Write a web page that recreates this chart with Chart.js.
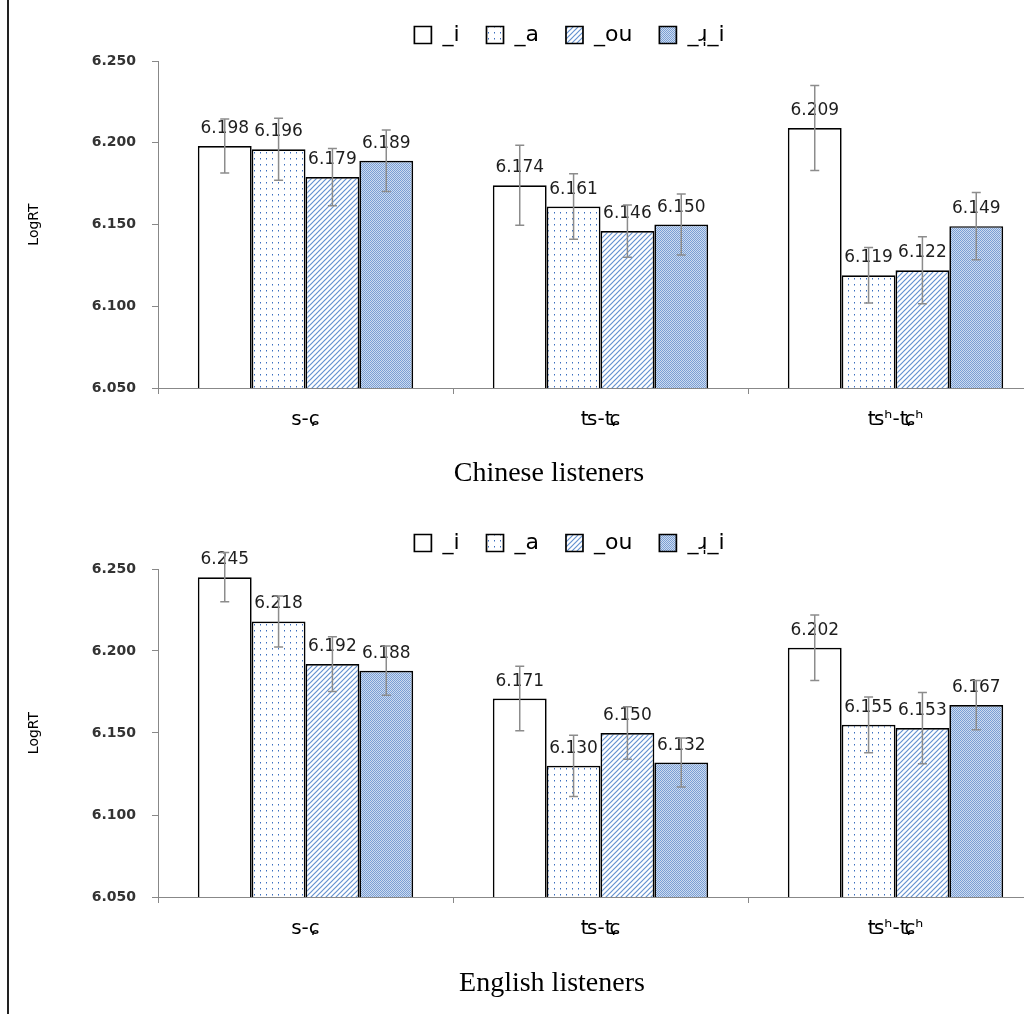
<!DOCTYPE html>
<html>
<head>
<meta charset="utf-8">
<script src="https://cdn.jsdelivr.net/npm/chart.js@4"></script>
<style>
  html, body { margin:0; padding:0; background:#fff; }
  body { width:1024px; height:1014px; overflow:hidden; position:relative; }
  canvas { position:absolute; left:0; }
  #c1 { top:0; }
  #c2 { top:508px; }
  .frame { position:absolute; left:7px; top:0; width:2px; height:1014px; background:#222; }
  .caption { position:absolute; left:0; text-align:center; font-family:"Liberation Serif","Times New Roman",serif; font-size:28px; line-height:32px; color:#000; }
</style>
</head>
<body>
<div class="frame"></div>
<canvas id="c1" width="1045" height="508"></canvas>
<canvas id="c2" width="1045" height="508"></canvas>
<div class="caption" style="top:456px; width:1098px">Chinese listeners</div>
<div class="caption" style="top:966px; width:1104px">English listeners</div>
<script>
// ----- data -----
const categories = ['s-ɕ', 'ʦ-ʨ', 'ʦʰ-ʨʰ'];
const seriesNames = ['_i', '_a', '_ou', '_ɹ̩_i'];
const yTicks = [6.050, 6.100, 6.150, 6.200, 6.250];

// Chinese listeners: mean LogRT per series (s-ɕ, ʦ-ʨ, ʦʰ-ʨʰ)
const cn_i  = [6.198, 6.174, 6.209];
const cn_a  = [6.196, 6.161, 6.119];
const cn_ou = [6.179, 6.146, 6.122];
const cn_ri = [6.189, 6.150, 6.149];
// error bar half-lengths
const cnErr_i  = [0.0165, 0.0245, 0.026];
const cnErr_a  = [0.019, 0.020, 0.017];
const cnErr_ou = [0.0175, 0.016, 0.0205];
const cnErr_ri = [0.0188, 0.0187, 0.0205];

// English listeners
const en_i  = [6.245, 6.171, 6.202];
const en_a  = [6.218, 6.130, 6.155];
const en_ou = [6.192, 6.150, 6.153];
const en_ri = [6.188, 6.132, 6.167];
const enErr_i  = [0.015, 0.0197, 0.020];
const enErr_a  = [0.0155, 0.0187, 0.017];
const enErr_ou = [0.0167, 0.016, 0.0217];
const enErr_ri = [0.015, 0.015, 0.015];

// ----- fill patterns -----
function makePattern(w, h, draw) {
  const c = document.createElement('canvas');
  c.width = w; c.height = h;
  const g = c.getContext('2d');
  draw(g);
  return g.createPattern(c, 'repeat');
}
const dots = makePattern(6, 6, g => {
  g.fillStyle = '#fff'; g.fillRect(0, 0, 6, 6);
  g.fillStyle = '#3b6dbd'; g.fillRect(2, 2, 1, 1);
  g.fillStyle = '#9db8e2'; g.fillRect(2, 3, 1, 1);
});
const stripes = makePattern(5, 5, g => {
  g.fillStyle = '#fff'; g.fillRect(0, 0, 5, 5);
  g.strokeStyle = '#6592d0'; g.lineWidth = 1.2;
  g.beginPath();
  g.moveTo(0, 5); g.lineTo(5, 0);
  g.moveTo(-1, 1); g.lineTo(1, -1);
  g.moveTo(4, 6); g.lineTo(6, 4);
  g.stroke();
});
const checker = makePattern(2, 2, g => {
  g.fillStyle = '#cddbf0'; g.fillRect(0, 0, 2, 2);
  g.fillStyle = '#7a9fd4'; g.fillRect(0, 0, 1, 1); g.fillRect(1, 1, 1, 1);
});
const fills = ['#fff', dots, stripes, checker];

// ----- plugins -----
// shift the legend a bit (it is centred over the uncropped figure)
const nudgeLegend = {
  id: 'nudgeLegend',
  afterLayout(chart, args, opts) {
    const lg = chart.legend;
    lg.left += opts.dx; lg.right += opts.dx;
    lg.top += opts.dy; lg.bottom += opts.dy;
  }
};

// value labels and error bars
const barExtras = {
  id: 'barExtras',
  afterDatasetsDraw(chart) {
    const ctx = chart.ctx, y = chart.scales.y;
    ctx.save();
    ctx.font = '17px "DejaVu Sans"';
    ctx.fillStyle = '#1e1e1e';
    ctx.textAlign = 'center';
    ctx.textBaseline = 'alphabetic';
    chart.data.datasets.forEach((ds, i) => {
      chart.getDatasetMeta(i).data.forEach((bar, j) => {
        ctx.fillText(ds.data[j].toFixed(3), bar.x, bar.y - 13);
      });
    });
    ctx.strokeStyle = '#8c8c8c';
    ctx.lineWidth = 1.5;
    chart.data.datasets.forEach((ds, i) => {
      chart.getDatasetMeta(i).data.forEach((bar, j) => {
        const top = y.getPixelForValue(ds.data[j] + ds.errors[j]);
        const bot = y.getPixelForValue(ds.data[j] - ds.errors[j]);
        ctx.beginPath();
        ctx.moveTo(bar.x, top); ctx.lineTo(bar.x, bot);
        ctx.moveTo(bar.x - 4.5, top); ctx.lineTo(bar.x + 4.5, top);
        ctx.moveTo(bar.x - 4.5, bot); ctx.lineTo(bar.x + 4.5, bot);
        ctx.stroke();
      });
    });
    ctx.restore();
  }
};

function makeChart(id, values, errors, xHeight) {
  return new Chart(document.getElementById(id), {
    type: 'bar',
    data: {
      labels: categories,
      datasets: seriesNames.map((name, i) => ({
        label: name,
        data: values[i],
        errors: errors[i],
        backgroundColor: fills[i],
        borderColor: '#000',
        borderWidth: 1.7
      }))
    },
    options: {
      responsive: false,
      animation: false,
      layout: { padding: { left: 0, right: 2, top: 2, bottom: 0 } },
      datasets: { bar: { categoryPercentage: 0.73, barPercentage: 1 } },
      plugins: {
        legend: {
          position: 'top',
          labels: {
            boxWidth: 17, boxHeight: 17, padding: 27, color: '#000',
            font: { family: 'DejaVu Sans', size: 22 }
          }
        },
        tooltip: { enabled: false },
        nudgeLegend: { dx: 48, dy: -5 }
      },
      scales: {
        x: {
          grid: { drawOnChartArea: false, tickLength: 6, color: '#888' },
          border: { color: '#888' },
          ticks: { color: '#000', padding: 14, font: { family: 'DejaVu Sans', size: 20 } },
          afterFit: s => { s.height = xHeight; }
        },
        y: {
          min: yTicks[0],
          max: yTicks[yTicks.length - 1],
          afterBuildTicks: s => { s.ticks = yTicks.map(v => ({ value: v })); },
          grid: { drawOnChartArea: false, tickLength: 6, color: '#888' },
          border: { color: '#888' },
          ticks: {
            color: '#333', padding: 16,
            font: { family: 'DejaVu Sans', size: 14, weight: 'bold' },
            callback: v => v.toFixed(3)
          },
          title: {
            display: true, text: 'LogRT', color: '#000',
            font: { family: 'DejaVu Sans', size: 14 },
            padding: { top: 26, bottom: 0 }
          },
          afterFit: s => { s.width = 158; }
        }
      }
    },
    plugins: [nudgeLegend, barExtras]
  });
}

makeChart('c1', [cn_i, cn_a, cn_ou, cn_ri], [cnErr_i, cnErr_a, cnErr_ou, cnErr_ri], 120);
makeChart('c2', [en_i, en_a, en_ou, en_ri], [enErr_i, enErr_a, enErr_ou, enErr_ri], 119);
</script>
</body>
</html>
